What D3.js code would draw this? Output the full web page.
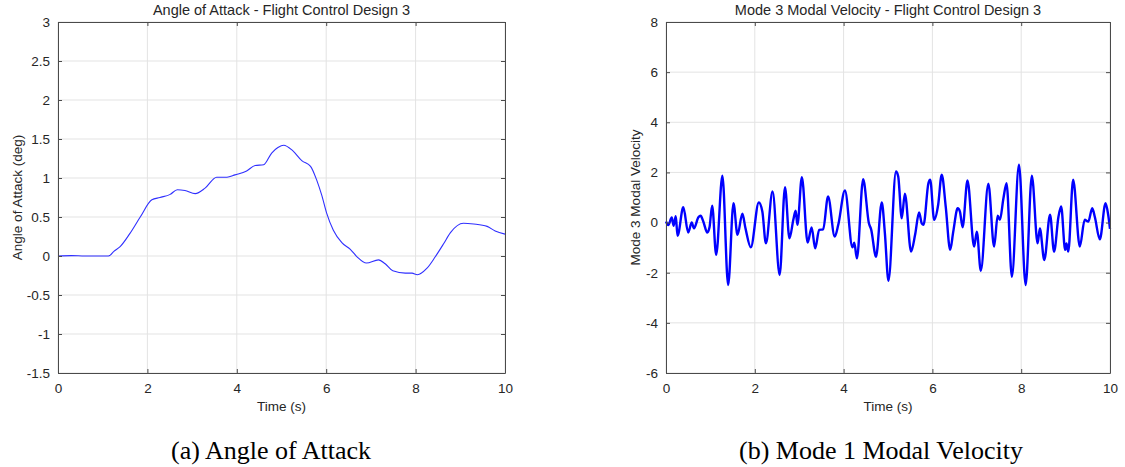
<!DOCTYPE html>
<html>
<head>
<meta charset="utf-8">
<script src="https://cdn.jsdelivr.net/npm/d3@7"></script>
<style>
	body { margin: 0; background: #fff; }
	text { font-family: "Liberation Sans", Arial, sans-serif; fill: #262626; }
	.caption { font-family: "Liberation Serif", "Times New Roman", serif; fill: #000; }
</style>
</head>
<body>
<svg id="fig" width="1125" height="467"></svg>
<script>
// angle of attack (deg)
var aoaTime = [0, 0.3, 0.6, 0.9, 1.13, 1.25, 1.39, 1.61, 1.84, 2.10, 2.28, 2.51, 2.67, 2.84, 3.07, 3.29, 3.55, 3.78, 3.96, 4.22, 4.41, 4.60, 4.78, 4.92, 5.05, 5.25, 5.46, 5.65, 5.79, 5.90, 6.01, 6.16, 6.35, 6.54, 6.69, 6.90, 7.17, 7.32, 7.49, 7.77, 7.92, 8.04, 8.25, 8.44, 8.63, 8.78, 9.07, 9.30, 9.60, 9.78, 10.0]
var aoaValue = [0, 0.005, 0, 0, 0, 0.06, 0.12, 0.29, 0.50, 0.72, 0.75, 0.79, 0.85, 0.84, 0.80, 0.87, 1.01, 1.01, 1.04, 1.09, 1.16, 1.17, 1.32, 1.39, 1.42, 1.35, 1.22, 1.15, 0.97, 0.78, 0.55, 0.33, 0.17, 0.085, -0.01, -0.09, -0.05, -0.10, -0.19, -0.22, -0.22, -0.24, -0.16, -0.01, 0.16, 0.30, 0.42, 0.41, 0.38, 0.32, 0.28]

// mode 3 modal velocity
var mvTime = [0, 0.05, 0.13, 0.17, 0.22, 0.26, 0.39, 0.50, 0.58, 0.63, 0.73, 0.78, 0.84, 0.93, 0.98, 1.04, 1.13, 1.27, 1.40, 1.52, 1.61, 1.72, 1.79, 1.91, 2.09, 2.17, 2.25, 2.40, 2.56, 2.68, 2.78, 2.87, 2.92, 2.96, 3.06, 3.19, 3.28, 3.36, 3.45, 3.54, 3.65, 3.80, 3.88, 4.03, 4.20, 4.24, 4.30, 4.44, 4.57, 4.62, 4.73, 4.86, 4.93, 5.01, 5.18, 5.23, 5.31, 5.38, 5.52, 5.61, 5.70, 5.76, 5.80, 5.91, 5.95, 6.04, 6.13, 6.21, 6.30, 6.40, 6.47, 6.57, 6.62, 6.68, 6.79, 6.94, 7.00, 7.09, 7.26, 7.39, 7.47, 7.52, 7.60, 7.67, 7.79, 7.95, 8.10, 8.24, 8.37, 8.42, 8.52, 8.65, 8.74, 8.84, 8.90, 8.99, 9.02, 9.06, 9.17, 9.32, 9.43, 9.51, 9.60, 9.66, 9.77, 9.90, 9.96, 10.0]
var mvValue = [0.04, -0.1, 0.2, -0.13, 0.25, -0.53, 0.61, -0.4, 0, -0.23, 0.21, 0.27, 0.04, -0.4, -0.19, 0.67, -1.29, 1.87, -2.49, 0.77, -0.49, 0.35, -0.23, -0.99, 0.8, 0.44, -0.83, 1.24, -2.09, 1.41, -0.63, 0.13, 0.47, -0.09, 1.81, -0.8, -0.19, -1.03, -0.29, -0.27, 1.04, -0.56, -0.09, 1.28, -0.99, -0.8, -1.43, 1.73, -0.03, -0.27, -1.36, 0.8, -0.43, -2.32, 2.04, 1.84, 0.17, 1.15, -1.16, -0.49, 0.4, -0.03, -0.09, 1.57, 1.71, 0.11, 0.71, 1.91, 0.64, -1.09, -0.36, 0.57, 0.44, -0.19, 1.68, -0.96, -0.36, -1.92, 1.55, -0.96, 0.27, 0.11, 0.97, 1.57, -2.16, 2.31, -2.49, 1.87, -0.83, -0.23, -1.49, 0.31, -1.16, 0.24, 0.64, -1.09, -0.83, -1.16, 1.71, -0.96, 0.11, 0.04, 0.57, 0.21, -0.67, 0.77, 0.3, -0.25]

var xTicks = [0, 2, 4, 6, 8, 10]
var aoaTicks = [-1.5, -1, -0.5, 0, 0.5, 1, 1.5, 2, 2.5, 3]
var mvTicks = [-6, -4, -2, 0, 2, 4, 6, 8]

var svg = d3.select("#fig")

function panel(opt) {
	var x = d3.scaleLinear().domain([0, 10]).range([opt.left, opt.left + opt.width])
	var y = d3.scaleLinear().domain(opt.yDomain).range([opt.top + opt.height, opt.top])
	var g = svg.append("g")

	// grid
	g.selectAll(".gx").data(xTicks).enter().append("line")
		.attr("x1", function (d) { return x(d) }).attr("x2", function (d) { return x(d) })
		.attr("y1", opt.top).attr("y2", opt.top + opt.height)
		.attr("stroke", "#e3e3e3").attr("stroke-width", 1)
	g.selectAll(".gy").data(opt.yTicks).enter().append("line")
		.attr("y1", function (d) { return y(d) }).attr("y2", function (d) { return y(d) })
		.attr("x1", opt.left).attr("x2", opt.left + opt.width)
		.attr("stroke", "#e3e3e3").attr("stroke-width", 1)

	// line
	var pts = opt.t.map(function (d, i) { return [d, opt.v[i]] })
	var line = d3.line()
		.x(function (d) { return x(d[0]) })
		.y(function (d) { return y(d[1]) })
		.curve(d3.curveMonotoneX)
	g.append("path")
		.datum(pts)
		.attr("d", line)
		.attr("fill", "none")
		.attr("stroke", opt.color)
		.attr("stroke-width", opt.lw)
		.attr("stroke-linejoin", "round")

	// axes, ticks pointing inward, on all four sides like matlab
	var fmt = function (d) { return d3.format("")(d).replace("−", "-") }
	g.append("g").attr("transform", "translate(0," + (opt.top + opt.height) + ")")
		.call(d3.axisBottom(x).tickValues(xTicks).tickSizeInner(-4).tickSizeOuter(0).tickPadding(10).tickFormat(fmt))
	g.append("g").attr("transform", "translate(0," + opt.top + ")")
		.call(d3.axisTop(x).tickValues(xTicks).tickSizeInner(-4).tickSizeOuter(0).tickFormat(""))
	g.append("g").attr("transform", "translate(" + opt.left + ",0)")
		.call(d3.axisLeft(y).tickValues(opt.yTicks).tickSizeInner(-4).tickSizeOuter(0).tickPadding(8).tickFormat(fmt))
	g.append("g").attr("transform", "translate(" + (opt.left + opt.width) + ",0)")
		.call(d3.axisRight(y).tickValues(opt.yTicks).tickSizeInner(-4).tickSizeOuter(0).tickFormat(""))
	g.selectAll(".domain").attr("stroke", "#4a4a4a")
	g.selectAll(".tick line").attr("stroke", "#4a4a4a")
	g.selectAll(".tick text").style("font-size", "13.5px").attr("fill", "#262626")

	g.append("text")
		.attr("x", opt.left + opt.width / 2).attr("y", 15)
		.style("text-anchor", "middle").style("font-size", "14.5px")
		.attr("fill", "#000")
		.text(opt.title)
	g.append("text")
		.attr("x", opt.left + opt.width / 2).attr("y", 411)
		.style("text-anchor", "middle").style("font-size", "13.5px")
		.text("Time (s)")
	g.append("text")
		.attr("transform", "translate(" + opt.ylabX + "," + (opt.top + opt.height / 2) + ") rotate(-90)")
		.style("text-anchor", "middle").style("font-size", "13.5px")
		.text(opt.ylabel)
	g.append("text")
		.attr("class", "caption")
		.attr("x", opt.capX).attr("y", 459)
		.style("text-anchor", "middle").style("font-size", "26px")
		.text(opt.caption)
}

panel({
	left: 58, top: 22, width: 447, height: 351,
	yDomain: [-1.5, 3], yTicks: aoaTicks,
	t: aoaTime, v: aoaValue, color: "#2f2fff", lw: 1.1,
	title: "Angle of Attack - Flight Control Design 3",
	ylabel: "Angle of Attack (deg)", ylabX: 22,
	caption: "(a) Angle of Attack", capX: 271
})
panel({
	left: 666, top: 22, width: 444, height: 351,
	yDomain: [-6, 8], yTicks: mvTicks,
	t: mvTime, v: mvValue, color: "#0000ff", lw: 2.4,
	title: "Mode 3 Modal Velocity - Flight Control Design 3",
	ylabel: "Mode 3 Modal Velocity", ylabX: 640,
	caption: "(b) Mode 1 Modal Velocity", capX: 881
})
</script>
</body>
</html>
